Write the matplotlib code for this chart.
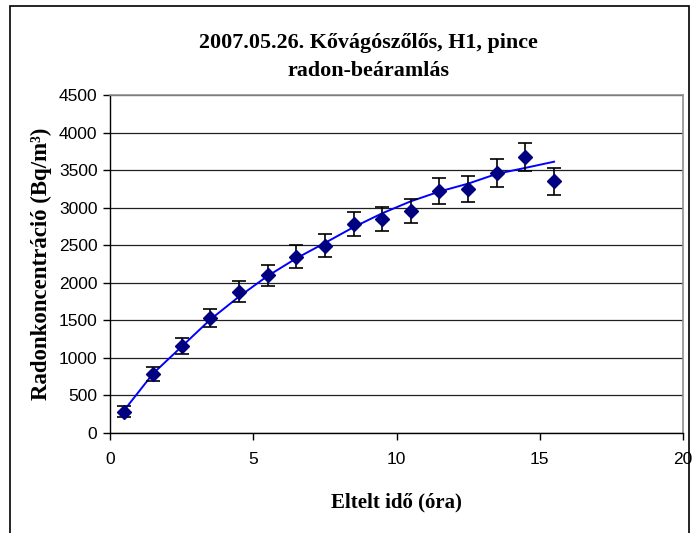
import matplotlib
matplotlib.use("Agg")
import matplotlib.pyplot as plt
from matplotlib.patches import Rectangle

# Data
hours = [0.5, 1.5, 2.5, 3.5, 4.5, 5.5, 6.5, 7.5, 8.5, 9.5, 10.5, 11.5, 12.5, 13.5, 14.5, 15.5]
radon = [285, 785, 1158, 1527, 1881, 2099, 2347, 2494, 2783, 2845, 2956, 3222, 3244, 3461, 3679, 3351]
radon_err = [70, 89, 111, 120, 140, 142, 153, 149, 162, 162, 164, 178, 175, 184, 186, 178]
fit = [305, 790, 1150, 1510, 1815, 2090, 2325, 2530, 2740, 2925, 3085, 3215, 3320, 3450, 3530, 3612]

x_ticks = [0, 5, 10, 15, 20]
y_ticks = [0, 500, 1000, 1500, 2000, 2500, 3000, 3500, 4000, 4500]

title = "2007.05.26. Kővágószőlős, H1, pince\nradon-beáramlás"
xlabel = "Eltelt idő (óra)"
ylabel = "Radonkoncentráció (Bq/m³)"

serif = ["Liberation Serif", "DejaVu Serif"]
sans = ["Liberation Sans", "DejaVu Sans"]

fig = plt.figure(figsize=(6.94, 5.33), dpi=100)
ax = fig.add_axes([110/694, 1-433/533, (683-110)/694, (433-95)/533])

ax.set_xlim(0, 20)
ax.set_ylim(0, 4500)
ax.set_xticks(x_ticks)
ax.set_yticks(y_ticks)
ax.grid(axis="y", color="#202020", linewidth=0.9)
ax.set_axisbelow(True)

for s in ["top", "right"]:
    ax.spines[s].set_color("#909090")
    ax.spines[s].set_linewidth(1.2)
for s in ["left", "bottom"]:
    ax.spines[s].set_color("black")
    ax.spines[s].set_linewidth(1.0)

ax.tick_params(axis="both", direction="out", length=5, width=1, color="black",
               labelsize=12.5)
ax.tick_params(axis="x", pad=9)
ax.tick_params(axis="y", pad=4)
for lab in ax.get_xticklabels() + ax.get_yticklabels():
    lab.set_family(sans)

ax.plot(hours, fit, color="#0000FF", linewidth=1.4, zorder=3)
ax.errorbar(hours, radon, yerr=radon_err, fmt="D", color="#000080",
            markersize=7.5, ecolor="black", elinewidth=1.2, capsize=5,
            capthick=1.2, zorder=4)

fig.text(368/694, 1-57/533, title, ha="center", va="center", fontsize=15.8,
         fontweight="bold", family=serif, linespacing=1.5)
ax.set_xlabel(xlabel, fontsize=15, fontweight="bold", family=serif, labelpad=18)
ax.set_ylabel(ylabel, fontsize=16.5, fontweight="bold", family=serif, labelpad=5)

fig.patches.append(Rectangle((10/694, -0.01), 679/694, 1-6/533+0.01,
                             transform=fig.transFigure, fill=False,
                             edgecolor="black", linewidth=1.2))

fig.savefig("out.png", dpi=100)
